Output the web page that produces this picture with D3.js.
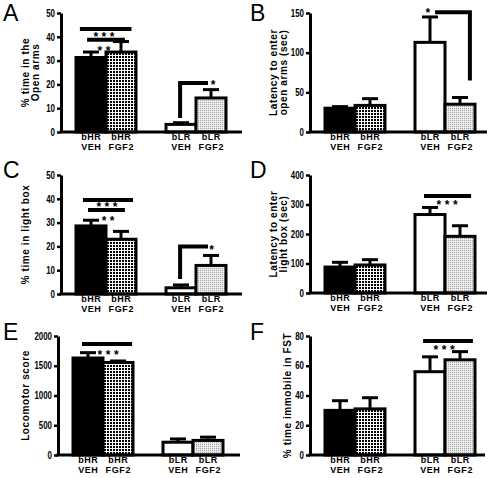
<!DOCTYPE html>
<html><head><meta charset="utf-8">
<script src="https://cdn.jsdelivr.net/npm/d3@7"></script>
<style>body{margin:0;background:#fff}svg{display:block}</style>
</head><body><svg id="c" width="490" height="478"></svg>
<script>
// ---------- DATA ----------
const groups = ["bHR VEH", "bHR FGF2", "bLR VEH", "bLR FGF2"];
const groupLabelTop = ["bHR", "bHR", "bLR", "bLR"];
const groupLabelBottom = ["VEH", "FGF2", "VEH", "FGF2"];

const valuesA = [31.3, 33.6, 3.2, 14.3];
const errTopA = [33.6, 38.0, 3.9, 17.8];
const valuesB = [30, 33.5, 113, 35];
const errTopB = [32, 42, 145, 43.5];
const valuesC = [28.6, 23.0, 2.6, 12.0];
const errTopC = [31.0, 26.3, 3.8, 16.2];
const valuesD = [88, 95, 266, 192];
const errTopD = [104, 113, 290, 228];
const valuesE = [1630, 1555, 215, 245];
const errTopE = [1720, 1580, 270, 300];
const valuesF = [30, 31, 56, 64];
const errTopF = [36.5, 38.5, 66, 69.5];

const ticksA = [0, 10, 20, 30, 40, 50];
const ticksB = [0, 50, 100, 150];
const ticksC = [0, 10, 20, 30, 40, 50];
const ticksD = [0, 100, 200, 300, 400];
const ticksE = [0, 500, 1000, 1500, 2000];
const ticksF = [0, 20, 40, 60, 80];

const titleA = ["% time in the", "Open arms"];
const titleB = ["Latency to enter", "open arms (sec)"];
const titleC = ["% time in light box"];
const titleD = ["Latency to enter", "light box (sec)"];
const titleE = ["Locomotor score"];
const titleF = ["% time immobile in FST"];

// significance annotations (value = level in data units; labelValue = star centre)
const sigA = [
  {kind: "line", value: 43.3, from: 0.13, to: 1.85, label: "***", labelAt: 0.93, labelValue: 41.2},
  {kind: "line", value: 38.8, from: 0.37, to: 1.63, label: "**", labelAt: 0.93, labelValue: 35.4},
  {kind: "bracket", value: 20.6, down: 5.9, from: 3.47, to: 4.4, label: "*", labelAt: 4.57, labelValue: 21}
];
const sigB = [
  {kind: "bracket", value: 151, down: 65, from: 4.83, to: 3.67, label: "*", labelAt: 3.43, labelValue: 153.5}
];
const sigC = [
  {kind: "line", value: 39.5, from: 0.23, to: 1.9, label: "***", labelAt: 1.03, labelValue: 37.8},
  {kind: "line", value: 35.3, from: 0.4, to: 1.63, label: "**", labelAt: 1.07, labelValue: 32},
  {kind: "bracket", value: 20, down: 6.3, from: 3.47, to: 4.4, label: "*", labelAt: 4.52, labelValue: 19.8}
];
const sigD = [
  {kind: "line", value: 329, from: 3.3, to: 4.87, label: "***", labelAt: 4.07, labelValue: 308}
];
const sigE = [
  {kind: "line", value: 1866, from: 0.3, to: 1.97, label: "***", labelAt: 1.17, labelValue: 1731}
];
const sigF = [
  {kind: "line", value: 76.6, from: 3.27, to: 4.93, label: "***", labelAt: 3.97, labelValue: 72.6}
];

// ---------- LAYOUT ----------
const panels = [
  {letter: "A", lx: 3, ly: 21, ax: 61, top: 13, bottom: 132, right: 242, max: 50, ticks: ticksA, vals: valuesA, errs: errTopA, title: titleA, titleX: [25, 35], sig: sigA},
  {letter: "B", lx: 250, ly: 21, ax: 310, top: 13, bottom: 132, right: 487, max: 150, ticks: ticksB, vals: valuesB, errs: errTopB, title: titleB, titleX: [273, 283], sig: sigB},
  {letter: "C", lx: 3, ly: 178, ax: 61, top: 175, bottom: 294, right: 242, max: 50, ticks: ticksC, vals: valuesC, errs: errTopC, title: titleC, titleX: [25], sig: sigC},
  {letter: "D", lx: 250, ly: 178, ax: 310, top: 175, bottom: 293, right: 487, max: 400, ticks: ticksD, vals: valuesD, errs: errTopD, title: titleD, titleX: [273, 283], sig: sigD},
  {letter: "E", lx: 3, ly: 340, ax: 58, top: 336, bottom: 455, right: 240, max: 2000, ticks: ticksE, vals: valuesE, errs: errTopE, title: titleE, titleX: [25], sig: sigE},
  {letter: "F", lx: 250, ly: 340, ax: 310, top: 336, bottom: 455, right: 485, max: 80, ticks: ticksF, vals: valuesF, errs: errTopF, title: titleF, titleX: [287], sig: sigF}
];
const slotOf = [0, 1, 3, 4];
const fills = ["#000", "url(#grid)", "#fff", "url(#dots)"];

const svg = d3.select("#c");
const defs = svg.append("defs");
const grid = defs.append("pattern").attr("id", "grid").attr("patternUnits", "userSpaceOnUse")
  .attr("width", 3).attr("height", 3);
grid.append("rect").attr("width", 3).attr("height", 3).attr("fill", "#000");
grid.append("rect").attr("x", 0).attr("y", 1).attr("width", 3).attr("height", 1).attr("fill", "#fff");
grid.append("rect").attr("x", 1).attr("y", 0).attr("width", 1).attr("height", 3).attr("fill", "#fff");
const dots = defs.append("pattern").attr("id", "dots").attr("patternUnits", "userSpaceOnUse")
  .attr("width", 2).attr("height", 2);
dots.append("rect").attr("width", 2).attr("height", 2).attr("fill", "#e4e4e4");
dots.append("rect").attr("x", 0).attr("y", 0).attr("width", 1).attr("height", 1).attr("fill", "#a8a8a8");
dots.append("rect").attr("x", 1).attr("y", 1).attr("width", 1).attr("height", 1).attr("fill", "#f4f4f4");

const mainFont = "'Liberation Sans', Arial, sans-serif";

panels.forEach(p => {
  const g = svg.append("g");
  const y = d3.scaleLinear().domain([0, p.max]).range([p.bottom, p.top]);
  const barW = 30;
  const x = d3.scaleLinear().domain([0, 5]).range([p.ax + 15, p.ax + 15 + 5 * barW]);

  // letter
  g.append("text").attr("x", p.lx).attr("y", p.ly).text(p.letter)
    .attr("font-family", mainFont).attr("font-size", 23).attr("fill", "#000");

  // bars
  g.selectAll("rect.bar").data(groups).join("rect").attr("class", "bar")
    .attr("x", (d, i) => x(slotOf[i]))
    .attr("width", barW)
    .attr("y", (d, i) => y(p.vals[i]))
    .attr("height", (d, i) => y(0) - y(p.vals[i]))
    .attr("fill", (d, i) => fills[i])
    .attr("stroke", "#000").attr("stroke-width", 3);

  // error bars
  groups.forEach((d, i) => {
    const cx = x(slotOf[i] + 0.5);
    g.append("line").attr("x1", cx).attr("x2", cx).attr("y1", y(p.vals[i])).attr("y2", y(p.errs[i]))
      .attr("stroke", "#000").attr("stroke-width", 3);
    g.append("line").attr("x1", cx - 8).attr("x2", cx + 8).attr("y1", y(p.errs[i])).attr("y2", y(p.errs[i]))
      .attr("stroke", "#000").attr("stroke-width", 3);
  });

  // y axis
  const axis = g.append("g").attr("transform", `translate(${p.ax},0)`)
    .call(d3.axisLeft(y).tickValues(p.ticks).tickSize(4).tickSizeOuter(0).tickPadding(2).tickFormat(d3.format("d")));
  axis.select(".domain").attr("stroke-width", 3).attr("stroke", "#000");
  axis.selectAll(".tick line").attr("stroke-width", 2.5).attr("stroke", "#000");
  axis.selectAll(".tick text").attr("font-family", mainFont).attr("font-weight", "bold")
    .attr("font-size", 10).attr("fill", "#000")
    .each(function () {
      const n = this.textContent.length;
      d3.select(this).attr("textLength", n * 4.4).attr("lengthAdjust", "spacingAndGlyphs");
    });

  // x axis line
  g.append("line").attr("x1", p.ax - 1.5).attr("x2", p.right).attr("y1", y(0)).attr("y2", y(0))
    .attr("stroke", "#000").attr("stroke-width", 3);

  // category labels
  groups.forEach((d, i) => {
    const cx = x(slotOf[i] + 0.5) + 0.3;
    g.append("text").attr("x", cx).attr("y", y(0) + 8).attr("text-anchor", "middle").attr("font-family", mainFont)
      .attr("font-weight", "bold").attr("font-size", 9).attr("letter-spacing", 0.6).attr("fill", "#000")
      .text(groupLabelTop[i]);
    g.append("text").attr("x", cx).attr("y", y(0) + 18).attr("text-anchor", "middle").attr("font-family", mainFont)
      .attr("font-weight", "bold").attr("font-size", 9).attr("letter-spacing", 0.6).attr("fill", "#000")
      .text(groupLabelBottom[i]);
  });

  // y title
  const cy = (p.top + p.bottom) / 2;
  p.title.forEach((line, k) => {
    const tx = p.titleX[k] + 3.5;
    g.append("text").attr("transform", `translate(${tx},${cy}) rotate(-90)`)
      .attr("text-anchor", "middle").attr("font-family", mainFont).attr("font-weight", "bold")
      .attr("font-size", 10).attr("letter-spacing", 0.6).attr("fill", "#000").text(line);
  });

  // significance
  const fs = 12, ls = 3.5;
  p.sig.forEach(s => {
    if (s.kind === "line") {
      g.append("line").attr("x1", x(s.from)).attr("x2", x(s.to)).attr("y1", y(s.value)).attr("y2", y(s.value))
        .attr("stroke", "#000").attr("stroke-width", 4);
    } else {
      const path = d3.path();
      path.moveTo(x(s.from), y(s.down));
      path.lineTo(x(s.from), y(s.value));
      path.lineTo(x(s.to), y(s.value));
      g.append("path").attr("d", path.toString()).attr("fill", "none")
        .attr("stroke", "#000").attr("stroke-width", 4);
    }
    g.append("text").attr("x", x(s.labelAt) + ls / 2).attr("y", y(s.labelValue) + 0.57 * fs)
      .attr("text-anchor", "middle").attr("font-family", mainFont).attr("font-size", fs)
      .attr("font-weight", "bold").attr("letter-spacing", ls).attr("fill", "#000").text(s.label);
  });
});
</script></body></html>
